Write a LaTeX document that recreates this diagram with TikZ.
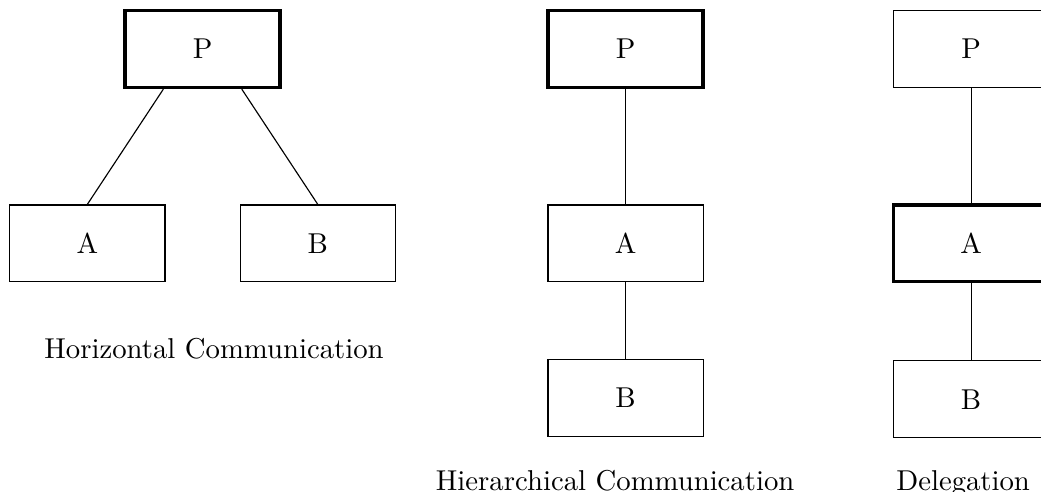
\documentclass[tikz,border=0pt]{standalone}
\usepackage{amsmath}
\usepackage{tikz}
\usetikzlibrary{positioning}

\begin{document}
\begin{tikzpicture}[
box/.style={draw,rectangle,minimum width=1.9cm,minimum height=0.94cm,align=center},
lead/.style={box,very thick},
caption/.style={anchor=base}]
\useasboundingbox (0,0) rectangle (12.74,-6.02);

% horizontal
\node (hp) [lead] at (2.479,-0.600) {P};
\node (ha) [box,below=1.41cm of hp,xshift=-1.41cm] {A};
\node (hb) [box,below=1.41cm of hp,xshift=1.41cm] {B};
\draw ([xshift=-0.48cm]hp.south) -- (ha.north);
\draw ([xshift=0.48cm]hp.south) -- (hb.north);
\node (hcap) [caption] at (2.619,-4.382) {Horizontal Communication};

% hierarchical
\node (rp) [lead] at (7.656,-0.600) {P};
\node (ra) [box,below=1.41cm of rp] {A};
\node (rb) [box,below=0.94cm of ra] {B};
\draw (rp) -- (ra);
\draw (ra) -- (rb);
\node (rcap) [caption] at (7.528,-5.998) {Hierarchical Communication};

% delegation
\node (dp) [box] at (11.885,-0.600) {P};
\node (da) [lead,below=1.41cm of dp] {A};
\node (db) [box,below=0.94cm of da] {B};
\draw (dp) -- (da);
\draw (da) -- (db);
\node (dcap) [caption] at (11.787,-5.998) {Delegation};
\end{tikzpicture}
\end{document}
